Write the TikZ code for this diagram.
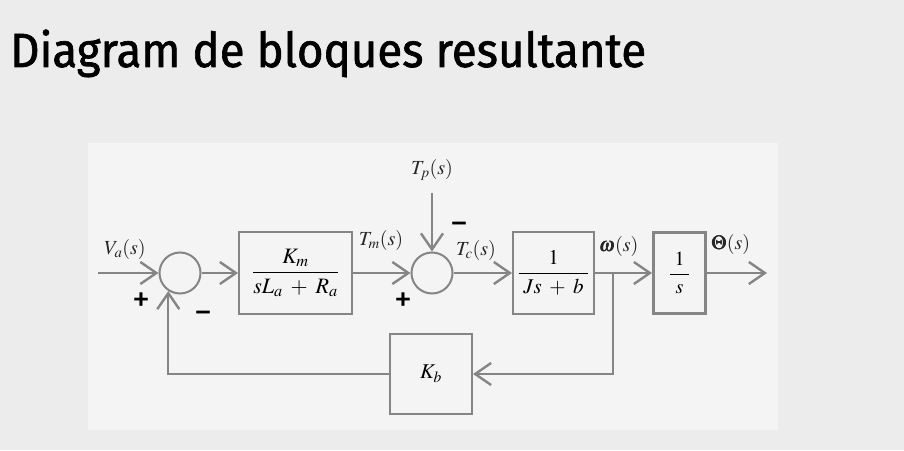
\documentclass[tikz,border=0pt]{standalone}
\usepackage{mathptmx}
\usepackage{amsmath}
\usepackage{fontspec}
\setmainfont{Liberation Serif}
\setsansfont{Fira Sans}
\newfontfamily\titulofont[FakeBold=1.4]{Fira Sans}
\usetikzlibrary{arrows.meta}
\definecolor{lineagris}{HTML}{858585}
\definecolor{fondopag}{HTML}{ECECEC}
\definecolor{fondodiag}{HTML}{F4F4F4}
\tikzset{
	bloque/.style={draw=lineagris,line width=2pt,fill=fondodiag,inner sep=0pt},
	suma/.style={circle,draw=lineagris,line width=2pt,minimum size=41pt,inner sep=0pt},
	flecha/.style={lineagris,line width=2.4pt,-{Straight Barb[length=16pt,width=22pt]}},
	signo/.style={font=\sffamily\fontsize{36}{36}\selectfont,text=black,inner sep=0pt,text height=0.4em,text depth=-0.2em},
	etiqueta/.style={font=\fontsize{20}{24}\selectfont,text=black!85},
}

\begin{document}
\begin{tikzpicture}[x=1pt,y=1pt]
	\useasboundingbox (0,0) rectangle (904,450);
	\fill[fondopag] (0,0) rectangle (904,450);
	\fill[fondodiag] (88,20) rectangle (778,307);
	\node[anchor=base west,inner sep=0pt] (titulo) at (10,383) {\titulofont\fontsize{48}{48}\selectfont\scalebox{0.95}[1]{Diagram de bloques resultante}};
	% bloques y sumadores
	\node[suma] (s1) at (180,177) {};
	\node[bloque,minimum width=113pt,minimum height=82pt,font=\fontsize{22}{26}\selectfont] (g1) at (295.5,177) {$\dfrac{\;K_m\;}{sL_a\;+\;R_a}$};
	\node[suma] (s2) at (432,177) {};
	\node[bloque,minimum width=81pt,minimum height=82pt,font=\fontsize{21}{25}\selectfont] (g2) at (553.5,177) {$\dfrac{1}{\;Js\;+\;b\;}$};
	\node[bloque,line width=3pt,minimum width=52pt,minimum height=81pt,font=\fontsize{20}{24}\selectfont] (g3) at (679.5,177) {$\dfrac{\;1\;}{s}$};
	\node[bloque,minimum width=82pt,minimum height=80pt,font=\fontsize{21}{25}\selectfont] (kb) at (431,76) {$K_b$};
	\coordinate (entrada) at (98,177);
	\coordinate (salida) at (767,177);
	\coordinate (rama) at (613,177);
	\coordinate (pert) at (432,257);
	% conexiones
	\draw[flecha] (entrada) -- (s1);
	\draw[flecha] (s1) -- (g1);
	\draw[flecha] (g1) -- (s2);
	\draw[flecha] (pert) -- (s2);
	\draw[flecha] (s2) -- (g2);
	\draw[flecha] (g2) -- (g3);
	\draw[flecha] (g3) -- (salida);
	\draw[flecha] (rama) |- (kb);
	\draw[flecha] (kb) -| (s1.237.5);
	% etiquetas
	\node[etiqueta] (lva) at (125,200) {$V_a(s)$};
	\node[etiqueta] (ltm) at (381,209) {$T_m(s)$};
	\node[etiqueta] (ltp) at (432,280) {$T_p(s)$};
	\node[etiqueta] (ltc) at (476,199) {$T_c(s)$};
	\node[etiqueta] (lw) at (619,203) {$\pmb{\omega}(s)$};
	\node[etiqueta] (lth) at (731,205) {$\pmb{\Theta}(s)$};
	\node[signo] (mas1) at (141.5,141) {+};
	\node[signo] (menos1) at (203,128) {−};
	\node[signo] (mas2) at (403,141) {+};
	\node[signo] (menos2) at (459,216) {−};
\end{tikzpicture}
\end{document}
